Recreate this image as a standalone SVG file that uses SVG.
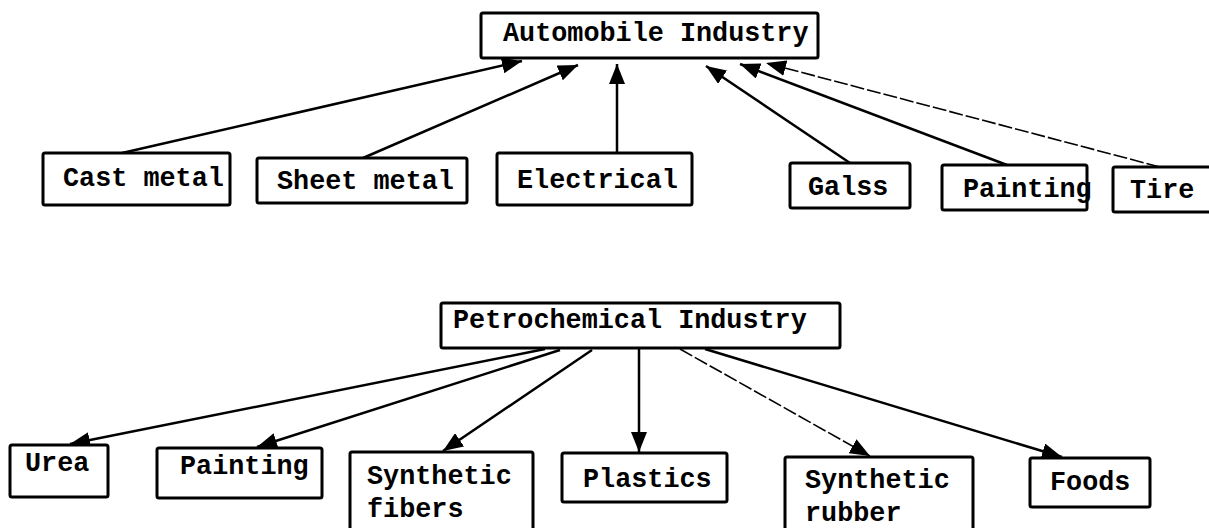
<svg xmlns="http://www.w3.org/2000/svg" width="1209" height="528" viewBox="0 0 1209 528">
<style>
.box{fill:#fff;stroke:#000;stroke-width:3}
.t{font-family:"Liberation Mono","DejaVu Sans Mono",monospace;font-weight:bold;font-size:26.8px;fill:#000}
.c{stroke:#000;stroke-width:2.5;fill:none;marker-end:url(#ah)}
.thin{stroke-width:1.6;stroke-dasharray:14 3}
</style>
<defs>
<marker id="ah" markerUnits="userSpaceOnUse" markerWidth="22" markerHeight="16" refX="20" refY="8" orient="auto">
<path d="M0,0 L20,8 L0,16 z" fill="#000"/>
</marker>
</defs>
<rect width="1209" height="528" fill="#fff"/>
<g id="connectors">
<line class="c" x1="122" y1="153" x2="522" y2="61"/>
<line class="c" x1="363" y1="158" x2="578" y2="65"/>
<line class="c" x1="617" y1="153" x2="617" y2="64"/>
<line class="c" x1="850" y1="163" x2="706" y2="66"/>
<line class="c" x1="1007" y1="165" x2="740" y2="64"/>
<line class="c thin" x1="1160" y1="167" x2="766" y2="63"/>
<line class="c" x1="545" y1="349" x2="70" y2="444"/>
<line class="c" x1="560" y1="350" x2="257" y2="447"/>
<line class="c" x1="592" y1="350" x2="443" y2="451"/>
<line class="c" x1="639" y1="348" x2="639" y2="452"/>
<line class="c thin" x1="680" y1="349" x2="870" y2="456"/>
<line class="c" x1="705" y1="349" x2="1062" y2="457"/>
</g>
<g id="auto"><rect class="box" x="481" y="13" width="337" height="45" rx="2"/><text class="t" x="503" y="41">Automobile Industry</text></g>
<g id="cast"><rect class="box" x="43" y="153" width="187" height="52" rx="2"/><text class="t" x="63" y="186">Cast metal</text></g>
<g id="sheet"><rect class="box" x="257" y="158" width="210" height="45" rx="2"/><text class="t" x="277" y="189">Sheet metal</text></g>
<g id="electrical"><rect class="box" x="497" y="153" width="195" height="52" rx="2"/><text class="t" x="517" y="188">Electrical</text></g>
<g id="galss"><rect class="box" x="790" y="163" width="120" height="45" rx="2"/><text class="t" x="808" y="195">Galss</text></g>
<g id="painting1"><rect class="box" x="942" y="165" width="145" height="45" rx="2"/><text class="t" x="963" y="197">Painting</text></g>
<g id="tire"><rect class="box" x="1113" y="167" width="110" height="45" rx="2"/><text class="t" x="1130" y="198">Tire</text></g>
<g id="petro"><rect class="box" x="441" y="303" width="399" height="45" rx="2"/><text class="t" x="453" y="328">Petrochemical Industry</text></g>
<g id="urea"><rect class="box" x="10" y="445" width="98" height="52" rx="2"/><text class="t" x="25" y="471">Urea</text></g>
<g id="painting2"><rect class="box" x="157" y="448" width="165" height="50" rx="2"/><text class="t" x="180" y="474">Painting</text></g>
<g id="synfib"><rect class="box" x="350" y="452" width="183" height="80" rx="2"/><text class="t" x="367" y="484">Synthetic</text><text class="t" x="367" y="517">fibers</text></g>
<g id="plastics"><rect class="box" x="562" y="453" width="165" height="49" rx="2"/><text class="t" x="583" y="487">Plastics</text></g>
<g id="synrub"><rect class="box" x="785" y="457" width="188" height="80" rx="2"/><text class="t" x="805" y="488">Synthetic</text><text class="t" x="805" y="521">rubber</text></g>
<g id="foods"><rect class="box" x="1030" y="458" width="120" height="49" rx="2"/><text class="t" x="1050" y="490">Foods</text></g>
</svg>
